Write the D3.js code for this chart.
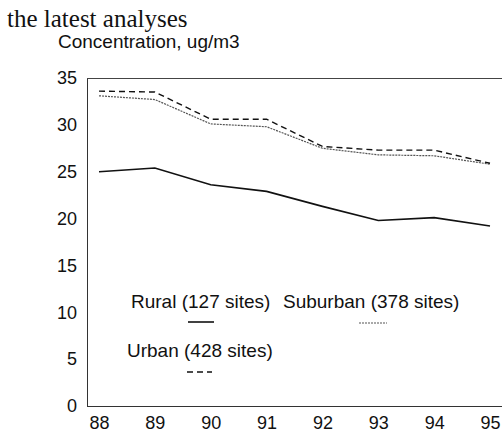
<!DOCTYPE html>
<meta charset="utf-8">
<style>
	body {
		margin: 0;
		background: #fff;
	}

	.axis text {
		font: 18px "Liberation Sans", Arial, sans-serif;
		fill: #111;
	}

	.label {
		font: 19px "Liberation Sans", Arial, sans-serif;
		fill: #111;
	}

	.line {
		fill: none;
	}
</style>

<body>
	<script src="https://cdn.jsdelivr.net/npm/d3@7"></script>
	<script>
		// years on the x axis (two-digit labels)
		var years = [88, 89, 90, 91, 92, 93, 94, 95];

		// concentration, ug/m3
		var rural = [25.0, 25.4, 23.6, 22.9, 21.3, 19.8, 20.1, 19.2];
		var suburban = [33.1, 32.7, 30.1, 29.8, 27.5, 26.8, 26.7, 25.8];
		var urban = [33.6, 33.5, 30.6, 30.6, 27.7, 27.3, 27.3, 25.9];

		var yTicks = [0, 5, 10, 15, 20, 25, 30, 35];

		var seriesNames = ["Rural (127 sites)", "Suburban (378 sites)", "Urban (428 sites)"];

		var width = 502,
			height = 433;

		var x = d3.scaleLinear()
			.domain([88, 95])
			.range([99, 490]);

		var y = d3.scaleLinear()
			.domain([0, 35])
			.range([406, 78]);

		var svg = d3.select("body").append("svg")
			.attr("width", width)
			.attr("height", height);

		// caption text above the chart
		svg.append("text")
			.attr("x", 7)
			.attr("y", 27)
			.style("font", "25px 'Liberation Serif', 'Times New Roman', serif")
			.style("fill", "#111")
			.text("the latest analyses");

		svg.append("text")
			.attr("class", "label")
			.attr("x", 58)
			.attr("y", 48)
			.text("Concentration, ug/m3");

		// frame: left, bottom and top lines
		var frameLeft = 87;
		svg.append("line")
			.attr("x1", frameLeft).attr("x2", frameLeft)
			.attr("y1", y(35)).attr("y2", y(0))
			.style("stroke", "#333")
			.style("shape-rendering", "crispEdges");
		svg.append("line")
			.attr("x1", frameLeft).attr("x2", width)
			.attr("y1", y(0)).attr("y2", y(0))
			.style("stroke", "#333")
			.style("shape-rendering", "crispEdges");
		svg.append("line")
			.attr("x1", frameLeft).attr("x2", width)
			.attr("y1", y(35)).attr("y2", y(35))
			.style("stroke", "#444")
			.style("shape-rendering", "crispEdges");

		// y axis labels
		var yAxis = d3.axisLeft(y)
			.tickValues(yTicks)
			.tickSize(0)
			.tickPadding(10);

		svg.append("g")
			.attr("class", "axis")
			.attr("transform", "translate(" + frameLeft + ",0)")
			.call(yAxis)
			.call(function(g) { g.select(".domain").remove(); });

		// x axis labels
		var xAxis = d3.axisBottom(x)
			.tickValues(years)
			.tickSize(0)
			.tickPadding(10)
			.tickFormat(d3.format("d"));

		svg.append("g")
			.attr("class", "axis")
			.attr("transform", "translate(0," + y(0) + ")")
			.call(xAxis)
			.call(function(g) { g.select(".domain").remove(); });

		var line = d3.line()
			.x(function(d, i) { return x(years[i]); })
			.y(function(d) { return y(d); });

		var styles = [
			{ data: rural, stroke: "#111", width: 1.6, dash: null },
			{ data: suburban, stroke: "#555", width: 1.2, dash: "2,1" },
			{ data: urban, stroke: "#111", width: 1.4, dash: "6,4" }
		];

		styles.forEach(function(s) {
			svg.append("path")
				.datum(s.data)
				.attr("class", "line")
				.attr("d", line)
				.style("stroke", s.stroke)
				.style("stroke-width", s.width)
				.style("stroke-dasharray", s.dash);
		});

		// legend
		var legendPos = [
			{ tx: 131, ty: 308, lx1: 188, lx2: 214, ly: 322 },
			{ tx: 283, ty: 308, lx1: 359, lx2: 387, ly: 323 },
			{ tx: 127, ty: 357, lx1: 187, lx2: 212, ly: 372 }
		];

		seriesNames.forEach(function(name, i) {
			var p = legendPos[i],
				s = styles[i];
			svg.append("text")
				.attr("class", "label")
				.attr("x", p.tx)
				.attr("y", p.ty)
				.text(name);
			svg.append("line")
				.attr("x1", p.lx1).attr("x2", p.lx2)
				.attr("y1", p.ly).attr("y2", p.ly)
				.style("stroke", s.stroke)
				.style("stroke-width", s.width)
				.style("stroke-dasharray", s.dash);
		});
	</script>
</body>
